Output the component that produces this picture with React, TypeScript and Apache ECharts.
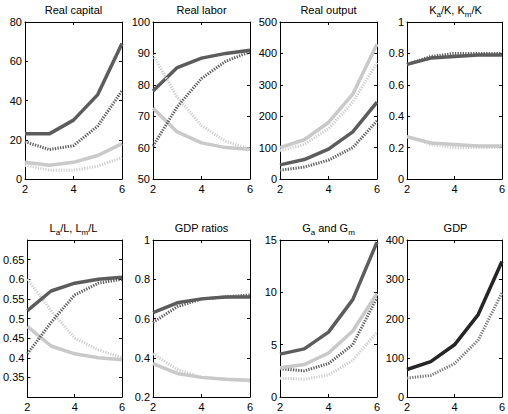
import React, { useEffect, useRef } from "react";
import * as echarts from "echarts";

const X = [2, 3, 4, 5, 6];

// Real capital
const capDarkSolid = [23, 23, 30, 43, 69];
const capDarkDot = [19, 15, 17, 27, 45];
const capLightSolid = [8.5, 7, 8.5, 12, 18];
const capLightDot = [7, 4.5, 4.5, 6.5, 11];
// Real labor
const labDarkSolid = [78, 85.5, 88.5, 90, 91];
const labDarkDot = [60.5, 73, 82, 87.5, 90.5];
const labLightSolid = [72.5, 65, 61.5, 60, 59.5];
const labLightDot = [89.5, 76, 67, 62, 59.5];
// Real output
const outLightSolid = [100, 125, 180, 270, 430];
const outLightDot = [90, 110, 160, 245, 370];
const outDarkSolid = [45, 62, 95, 150, 245];
const outDarkDot = [28, 38, 60, 100, 185];
// Ka/K, Km/K
const kDarkSolid = [0.73, 0.77, 0.78, 0.79, 0.79];
const kDarkDot = [0.73, 0.78, 0.8, 0.8, 0.8];
const kLightSolid = [0.27, 0.23, 0.22, 0.21, 0.21];
const kLightDot = [0.27, 0.22, 0.2, 0.2, 0.2];
// La/L, Lm/L
const lDarkSolid = [0.52, 0.57, 0.59, 0.6, 0.605];
const lDarkDot = [0.41, 0.49, 0.56, 0.59, 0.6];
const lLightSolid = [0.48, 0.43, 0.41, 0.4, 0.395];
const lLightDot = [0.6, 0.52, 0.45, 0.42, 0.4];
// GDP ratios
const rDarkSolid = [0.63, 0.68, 0.7, 0.71, 0.71];
const rDarkDot = [0.58, 0.66, 0.7, 0.71, 0.72];
const rLightSolid = [0.37, 0.32, 0.3, 0.29, 0.285];
const rLightDot = [0.42, 0.34, 0.3, 0.29, 0.28];
// Ga and Gm
const gDarkSolid = [4.1, 4.6, 6.2, 9.3, 14.8];
const gLightSolid = [2.8, 3.1, 4.2, 6.3, 9.9];
const gDarkDot = [2.7, 2.5, 3.2, 5, 9.5];
const gLightDot = [1.8, 1.7, 2.1, 3.5, 6.2];
// GDP
const gdpSolid = [70, 90, 133, 210, 345];
const gdpDot = [48, 55, 85, 145, 265];

const DARK = "#5c5c5c";
const LIGHT = "#c9c9c9";
const LIGHT_DOT = "#d0d0d0";
const BLACKISH = "#262626";
const MID = "#7a7a7a";

type S = { data: number[]; color: string; dotted: boolean };
type P = { title: string; min: number; max: number; interval: number; hideEnds?: boolean; series: S[] };

const panels: P[] = [
  { title: "{n|Real capital}", min: 0, max: 80, interval: 20, series: [
    { data: capLightDot, color: LIGHT_DOT, dotted: true },
    { data: capLightSolid, color: LIGHT, dotted: false },
    { data: capDarkDot, color: DARK, dotted: true },
    { data: capDarkSolid, color: DARK, dotted: false },
  ] },
  { title: "{n|Real labor}", min: 50, max: 100, interval: 10, series: [
    { data: labLightSolid, color: LIGHT, dotted: false },
    { data: labDarkSolid, color: DARK, dotted: false },
    { data: labLightDot, color: LIGHT_DOT, dotted: true },
    { data: labDarkDot, color: DARK, dotted: true },
  ] },
  { title: "{n|Real output}", min: 0, max: 500, interval: 100, series: [
    { data: outLightDot, color: LIGHT_DOT, dotted: true },
    { data: outLightSolid, color: LIGHT, dotted: false },
    { data: outDarkDot, color: DARK, dotted: true },
    { data: outDarkSolid, color: DARK, dotted: false },
  ] },
  { title: "{n|K}{s|a}{n|/K, K}{s|m}{n|/K}", min: 0, max: 1, interval: 0.2, series: [
    { data: kLightDot, color: LIGHT_DOT, dotted: true },
    { data: kLightSolid, color: LIGHT, dotted: false },
    { data: kDarkDot, color: DARK, dotted: true },
    { data: kDarkSolid, color: DARK, dotted: false },
  ] },
  { title: "{n|L}{s|a}{n|/L, L}{s|m}{n|/L}", min: 0.3, max: 0.7, interval: 0.05, hideEnds: true, series: [
    { data: lLightDot, color: LIGHT_DOT, dotted: true },
    { data: lLightSolid, color: LIGHT, dotted: false },
    { data: lDarkDot, color: DARK, dotted: true },
    { data: lDarkSolid, color: DARK, dotted: false },
  ] },
  { title: "{n|GDP ratios}", min: 0.2, max: 1, interval: 0.2, series: [
    { data: rLightDot, color: LIGHT_DOT, dotted: true },
    { data: rLightSolid, color: LIGHT, dotted: false },
    { data: rDarkDot, color: DARK, dotted: true },
    { data: rDarkSolid, color: DARK, dotted: false },
  ] },
  { title: "{n|G}{s|a}{n| and G}{s|m}", min: 0, max: 15, interval: 5, series: [
    { data: gLightDot, color: LIGHT_DOT, dotted: true },
    { data: gDarkDot, color: DARK, dotted: true },
    { data: gLightSolid, color: LIGHT, dotted: false },
    { data: gDarkSolid, color: DARK, dotted: false },
  ] },
  { title: "{n|GDP}", min: 0, max: 400, interval: 100, series: [
    { data: gdpDot, color: MID, dotted: true },
    { data: gdpSolid, color: BLACKISH, dotted: false },
  ] },
];

const LEFTS = [25, 153, 280, 407];
const TOPS = [22, 240];
const W = 97;
const H = 157;
const TITLE_Y = [10, 228];
const FONT = "Liberation Sans, Arial, Helvetica, sans-serif";

export default function App() {
  const ref = useRef<HTMLDivElement>(null);
  useEffect(() => {
    if (!ref.current) return;
    const chart = echarts.init(ref.current, undefined, { renderer: "svg" });
    const grids: any[] = [];
    const xAxes: any[] = [];
    const yAxes: any[] = [];
    const series: any[] = [];
    const graphic: any[] = [];
    const fmt = (v: number) => String(parseFloat(v.toFixed(2)));
    panels.forEach((p, i) => {
      const left = LEFTS[i % 4];
      const top = TOPS[Math.floor(i / 4)];
      grids.push({ left, top, width: W, height: H, show: false });
      const common = {
        gridIndex: i,
        type: "value",
        axisLine: { show: true, onZero: false, lineStyle: { color: "#000", width: 1 } },
        axisTick: { show: true, inside: true, length: 3, lineStyle: { color: "#000" } },
        splitLine: { show: false },
      };
      xAxes.push({ ...common, position: "bottom", min: 2, max: 6, interval: 2,
        axisLabel: { fontSize: 11, color: "#000", fontFamily: FONT, margin: 4 } });
      xAxes.push({ ...common, position: "top", min: 2, max: 6, interval: 2, axisLabel: { show: false } });
      yAxes.push({ ...common, position: "left", min: p.min, max: p.max, interval: p.interval,
        axisLabel: { fontSize: 11, color: "#000", fontFamily: FONT, margin: 3, formatter: fmt,
          showMinLabel: !p.hideEnds, showMaxLabel: !p.hideEnds } });
      yAxes.push({ ...common, position: "right", min: p.min, max: p.max, interval: p.interval, axisLabel: { show: false } });
      p.series.forEach((s) => {
        series.push({
          type: "line",
          xAxisIndex: 2 * i,
          yAxisIndex: 2 * i,
          data: X.map((x, k) => [x, s.data[k]]),
          symbol: "none",
          lineStyle: { color: s.color, width: s.dotted ? 3 : 3.5, type: s.dotted ? [1.3, 1.3] : "solid", cap: "butt" },
        });
      });
      graphic.push({
        type: "text",
        x: left + W / 2,
        y: TITLE_Y[Math.floor(i / 4)],
        style: {
          text: p.title,
          align: "center",
          verticalAlign: "middle",
          fill: "#000",
          rich: {
            n: { fontSize: 11, fontFamily: FONT, lineHeight: 16, verticalAlign: "middle" },
            s: { fontSize: 8, fontFamily: FONT, lineHeight: 8, verticalAlign: "bottom" },
          },
        },
      });
    });
    chart.setOption({
      animation: false,
      backgroundColor: "#fff",
      grid: grids,
      xAxis: xAxes,
      yAxis: yAxes,
      series,
      graphic,
    });
    return () => chart.dispose();
  }, []);
  return <div ref={ref} style={{ position: "fixed", left: 0, top: 0, width: 508, height: 414, background: "#fff" }} />;
}
